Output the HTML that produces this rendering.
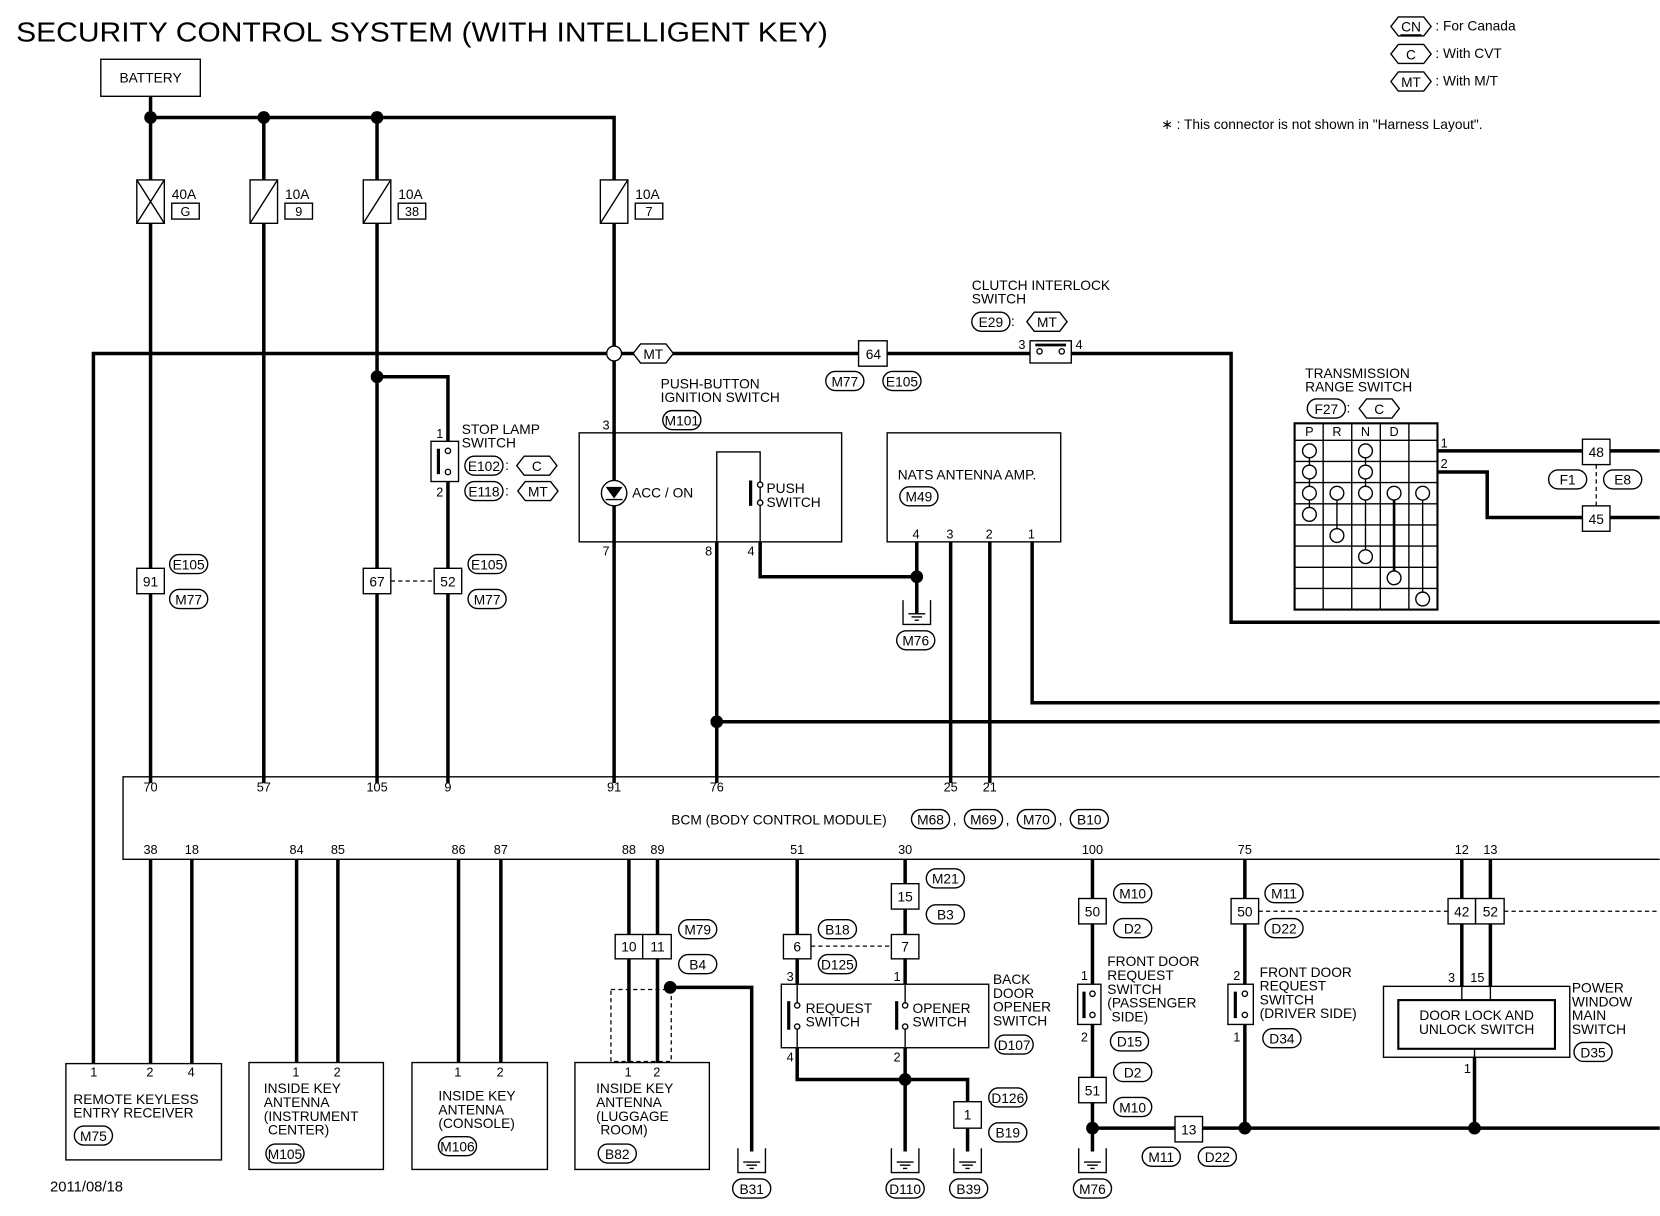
<!DOCTYPE html>
<html><head><meta charset="utf-8"><style>
html,body{margin:0;padding:0;background:#fff}
svg{display:block}
text{font-family:"Liberation Sans",sans-serif;font-size:13px;fill:#000}
.w{stroke:#000;stroke-width:3.3;fill:none}
.t{stroke:#000;stroke-width:1.3;fill:none}
.tf{stroke:#000;stroke-width:1.3;fill:#fff}
.d{stroke:#000;stroke-width:1.2;fill:none;stroke-dasharray:4 3}
.c{text-anchor:middle}
.p{font-size:12px}
</style></head><body>
<svg width="1660" height="1216" viewBox="0 0 1568 1149" xmlns="http://www.w3.org/2000/svg">
<defs>
<g id="gnd"><path class="t" d="M-13,0 V23 H13 V0"/><path class="t" d="M-8,13 H8 M-5,16 H5 M-2,19 H2"/></g>
<g id="ov"><rect class="tf" x="-18" y="-9" width="36" height="18" rx="9"/></g>
<g id="hx"><polygon class="tf" points="-19,0 -12,-9 12,-9 19,0 12,9 -12,9"/></g>
</defs>

<text x="15" y="39" style="font-size:26px" textLength="767" lengthAdjust="spacingAndGlyphs">SECURITY CONTROL SYSTEM (WITH INTELLIGENT KEY)</text>

<!-- legend -->
<use href="#hx" x="1333" y="25"/><text x="1333" y="30" class="c">CN</text><line class="t" x1="1323" y1="33" x2="1343" y2="33"/><text x="1356" y="29">: For Canada</text>
<use href="#hx" x="1333" y="51"/><text x="1333" y="56" class="c">C</text><text x="1356" y="55">: With CVT</text>
<use href="#hx" x="1333" y="77"/><text x="1333" y="82" class="c">MT</text><text x="1356" y="81">: With M/T</text>
<text x="1097" y="122">∗ : This connector is not shown in "Harness Layout".</text>

<!-- battery -->
<rect class="t" x="95" y="56" width="94" height="35"/><text x="142" y="78" class="c">BATTERY</text>
<path class="w" d="M142,91 V111 H580 V740"/>
<circle cx="142" cy="111" r="6"/><circle cx="249" cy="111" r="6"/><circle cx="356" cy="111" r="6"/>
<path class="w" d="M142,111 V740 M249,111 V740 M356,111 V740"/>
<!-- fuses -->
<rect class="tf" x="129" y="170" width="26" height="41"/><path class="t" d="M129,170 L155,211 M155,170 L129,211"/>
<text x="162" y="188">40A</text><rect class="t" x="162" y="192" width="26" height="15"/><text x="175" y="204" class="c p">G</text>
<rect class="tf" x="236" y="170" width="26" height="41"/><path class="t" d="M236,211 L262,170"/>
<text x="269" y="188">10A</text><rect class="t" x="269" y="192" width="26" height="15"/><text x="282" y="204" class="c p">9</text>
<rect class="tf" x="343" y="170" width="26" height="41"/><path class="t" d="M343,211 L369,170"/>
<text x="376" y="188">10A</text><rect class="t" x="376" y="192" width="26" height="15"/><text x="389" y="204" class="c p">38</text>
<rect class="tf" x="567" y="170" width="26" height="41"/><path class="t" d="M567,211 L593,170"/>
<text x="600" y="188">10A</text><rect class="t" x="600" y="192" width="26" height="15"/><text x="613" y="204" class="c p">7</text>

<!-- MT line -->
<path class="w" d="M88,1005 V334 H973 M1012,334 H1163 V588 H1568"/>
<circle class="tf" cx="580" cy="334" r="7"/>
<use href="#hx" x="617" y="334"/><text x="617" y="339" class="c">MT</text>
<rect class="tf" x="811" y="322" width="27" height="24"/><text x="825" y="339" class="c">64</text>
<use href="#ov" x="798" y="360"/><text x="798" y="365" class="c">M77</text>
<use href="#ov" x="852" y="360"/><text x="852" y="365" class="c">E105</text>
<text x="918" y="274">CLUTCH INTERLOCK</text><text x="918" y="287">SWITCH</text>
<use href="#ov" x="936" y="304"/><text x="936" y="309" class="c">E29</text>
<text x="955" y="308">:</text>
<use href="#hx" x="989" y="304"/><text x="989" y="309" class="c">MT</text>
<rect class="tf" x="973" y="322" width="39" height="21"/>
<circle class="t" cx="982" cy="332" r="2.5"/><circle class="t" cx="1003" cy="332" r="2.5"/><line class="t" x1="978" y1="326" x2="1007" y2="326" style="stroke-width:2.5"/>
<text x="962" y="330" class="p">3</text><text x="1016" y="330" class="p">4</text>

<!-- left connectors -->
<rect class="tf" x="129" y="537" width="26" height="24"/><text x="142" y="554" class="c">91</text>
<use href="#ov" x="178" y="533"/><text x="178" y="538" class="c">E105</text>
<use href="#ov" x="178" y="566"/><text x="178" y="571" class="c">M77</text>
<rect class="tf" x="343" y="537" width="26" height="24"/><text x="356" y="554" class="c">67</text>
<line class="d" x1="369" y1="549" x2="410" y2="549"/>
<rect class="tf" x="410" y="537" width="26" height="24"/><text x="423" y="554" class="c">52</text>
<use href="#ov" x="460" y="533"/><text x="460" y="538" class="c">E105</text>
<use href="#ov" x="460" y="566"/><text x="460" y="571" class="c">M77</text>

<!-- stop lamp -->
<path class="w" d="M356,356 H423 V417 M423,455 V537 M423,561 V740"/>
<circle cx="356" cy="356" r="6"/>
<rect class="tf" x="407" y="417" width="26" height="38"/>
<line x1="414" y1="424" x2="414" y2="448" class="t" style="stroke-width:3"/>
<circle class="tf" cx="423" cy="426" r="2.5"/><circle class="tf" cx="423" cy="446" r="2.5"/>
<text x="412" y="414" class="p">1</text><text x="412" y="469" class="p">2</text>
<text x="436" y="410">STOP LAMP</text><text x="436" y="423">SWITCH</text>
<use href="#ov" x="457" y="440"/><text x="457" y="445" class="c">E102</text><text x="477" y="444">:</text>
<use href="#hx" x="507" y="440"/><text x="507" y="445" class="c">C</text>
<use href="#ov" x="457" y="464"/><text x="457" y="469" class="c">E118</text><text x="477" y="468">:</text>
<use href="#hx" x="508" y="464"/><text x="508" y="469" class="c">MT</text>

<!-- push button ignition -->
<text x="624" y="367">PUSH-BUTTON</text><text x="624" y="380">IGNITION SWITCH</text>
<use href="#ov" x="644" y="397"/><text x="644" y="402" class="c">M101</text>
<rect class="t" x="547" y="409" width="248" height="103"/>
<path class="t" d="M677,512 V427 H718 V512"/>
<circle class="tf" cx="580" cy="466" r="12"/>
<polygon points="572,460 588,460 580,471"/><line class="t" x1="572" y1="472" x2="588" y2="472"/>
<text x="597" y="470">ACC / ON</text>
<line class="t" x1="709" y1="454" x2="709" y2="478" style="stroke-width:3"/>
<circle class="tf" cx="718" cy="458" r="2.5"/><circle class="tf" cx="718" cy="475" r="2.5"/>
<text x="724" y="466">PUSH</text><text x="724" y="479">SWITCH</text>
<text x="569" y="406" class="p">3</text><text x="569" y="525" class="p">7</text><text x="666" y="525" class="p">8</text><text x="706" y="525" class="p">4</text>
<path class="w" d="M677,512 V740 M718,512 V545 H866 M866,512 V580"/>
<circle cx="866" cy="545" r="6"/>
<use href="#gnd" x="866" y="567"/>
<use href="#ov" x="865" y="605"/><text x="865" y="610" class="c">M76</text>
<path class="w" d="M677,682 H1568"/><circle cx="677" cy="682" r="6"/>

<!-- NATS -->
<rect class="t" x="838" y="409" width="164" height="103"/>
<text x="848" y="453">NATS ANTENNA AMP.</text>
<use href="#ov" x="868" y="469"/><text x="868" y="474" class="c">M49</text>
<text x="862" y="509" class="p">4</text><text x="894" y="509" class="p">3</text><text x="931" y="509" class="p">2</text><text x="971" y="509" class="p">1</text>
<path class="w" d="M898,512 V740 M935,512 V740 M975,512 V664 H1568"/>

<!-- transmission range -->
<text x="1233" y="357">TRANSMISSION</text><text x="1233" y="370">RANGE SWITCH</text>
<use href="#ov" x="1253" y="386"/><text x="1253" y="391" class="c">F27</text><text x="1272" y="390">:</text>
<use href="#hx" x="1303" y="386"/><text x="1303" y="391" class="c">C</text>
<rect class="t" x="1223" y="400" width="135" height="176" style="stroke-width:2"/>
<path class="t" d="M1250,400 V576 M1277,400 V576 M1304,400 V576 M1331,400 V576 M1223,416 H1358 M1223,436 H1358 M1223,456 H1358 M1223,476 H1358 M1223,496 H1358 M1223,516 H1358 M1223,536 H1358 M1223,556 H1358"/>
<text x="1237" y="412" class="c p">P</text><text x="1263" y="412" class="c p">R</text><text x="1290" y="412" class="c p">N</text><text x="1317" y="412" class="c p">D</text>
<path class="t" d="M1237,426 V486 M1290,426 V526 M1263,466 V506"/>
<path class="w" d="M1317,466 V546" style="stroke-width:2.5"/>
<path class="t" d="M1344,466 V566"/>
<g class="tf">
<circle cx="1237" cy="426" r="6.5"/><circle cx="1290" cy="426" r="6.5"/>
<circle cx="1237" cy="446" r="6.5"/><circle cx="1290" cy="446" r="6.5"/>
<circle cx="1237" cy="466" r="6.5"/><circle cx="1263" cy="466" r="6.5"/><circle cx="1290" cy="466" r="6.5"/><circle cx="1317" cy="466" r="6.5"/><circle cx="1344" cy="466" r="6.5"/>
<circle cx="1237" cy="486" r="6.5"/><circle cx="1263" cy="506" r="6.5"/><circle cx="1290" cy="526" r="6.5"/><circle cx="1317" cy="546" r="6.5"/><circle cx="1344" cy="566" r="6.5"/>
</g>
<text x="1361" y="423" class="p">1</text><text x="1361" y="442" class="p">2</text>
<path class="w" d="M1358,426 H1568 M1358,446 H1405 V489 H1568"/>
<rect class="tf" x="1495" y="415" width="26" height="24"/><text x="1508" y="432" class="c">48</text>
<rect class="tf" x="1495" y="478" width="26" height="24"/><text x="1508" y="495" class="c">45</text>
<line class="d" x1="1508" y1="439" x2="1508" y2="478"/>
<use href="#ov" x="1481" y="453"/><text x="1481" y="458" class="c">F1</text>
<use href="#ov" x="1533" y="453"/><text x="1533" y="458" class="c">E8</text>

<!-- BCM -->
<path class="t" d="M1568,734 H116 V812 H1568"/>
<text x="142" y="748" class="c p">70</text><text x="249" y="748" class="c p">57</text><text x="356" y="748" class="c p">105</text><text x="423" y="748" class="c p">9</text><text x="580" y="748" class="c p">91</text><text x="677" y="748" class="c p">76</text><text x="898" y="748" class="c p">25</text><text x="935" y="748" class="c p">21</text>
<text x="142" y="807" class="c p">38</text><text x="181" y="807" class="c p">18</text><text x="280" y="807" class="c p">84</text><text x="319" y="807" class="c p">85</text><text x="433" y="807" class="c p">86</text><text x="473" y="807" class="c p">87</text><text x="594" y="807" class="c p">88</text><text x="621" y="807" class="c p">89</text><text x="753" y="807" class="c p">51</text><text x="855" y="807" class="c p">30</text><text x="1032" y="807" class="c p">100</text><text x="1176" y="807" class="c p">75</text><text x="1381" y="807" class="c p">12</text><text x="1408" y="807" class="c p">13</text>
<text x="634" y="779">BCM (BODY CONTROL MODULE)</text>
<use href="#ov" x="879" y="774"/><text x="879" y="779" class="c">M68</text><text x="900" y="779">,</text>
<use href="#ov" x="929" y="774"/><text x="929" y="779" class="c">M69</text><text x="950" y="779">,</text>
<use href="#ov" x="979" y="774"/><text x="979" y="779" class="c">M70</text><text x="1000" y="779">,</text>
<use href="#ov" x="1029" y="774"/><text x="1029" y="779" class="c">B10</text>

<!-- bottom wires -->
<path class="w" d="M142,812 V1005 M181,812 V1005 M280,812 V1004 M319,812 V1004 M433,812 V1004 M473,812 V1004 M594,812 V1004 M621,812 V1004"/>
<path class="w" d="M753,812 V930 M753,990 V1020 H914 V1088 M855,812 V930 M855,990 V1088"/>
<path class="w" d="M1032,812 V1088 M1176,812 V1066 M1381,812 V932 M1408,812 V932 M1393,999 V1066 M1032,1066 H1568"/>

<!-- remote keyless -->
<rect class="t" x="62" y="1005" width="147" height="91"/>
<text x="85" y="1017" class="p">1</text><text x="138" y="1017" class="p">2</text><text x="177" y="1017" class="p">4</text>
<text x="69" y="1043">REMOTE KEYLESS</text><text x="69" y="1056">ENTRY RECEIVER</text>
<use href="#ov" x="88" y="1073"/><text x="88" y="1078" class="c">M75</text>

<rect class="t" x="235" y="1004" width="127" height="101"/>
<text x="276" y="1017" class="p">1</text><text x="315" y="1017" class="p">2</text>
<text x="249" y="1033">INSIDE KEY</text><text x="249" y="1046">ANTENNA</text><text x="249" y="1059">(INSTRUMENT</text><text x="253" y="1072">CENTER)</text>
<use href="#ov" x="269" y="1090"/><text x="269" y="1095" class="c">M105</text>

<rect class="t" x="389" y="1004" width="128" height="101"/>
<text x="429" y="1017" class="p">1</text><text x="469" y="1017" class="p">2</text>
<text x="414" y="1040">INSIDE KEY</text><text x="414" y="1053">ANTENNA</text><text x="414" y="1066">(CONSOLE)</text>
<use href="#ov" x="432" y="1083"/><text x="432" y="1088" class="c">M106</text>

<rect class="t" x="543" y="1004" width="127" height="101"/>
<text x="590" y="1017" class="p">1</text><text x="617" y="1017" class="p">2</text>
<text x="563" y="1033">INSIDE KEY</text><text x="563" y="1046">ANTENNA</text><text x="563" y="1059">(LUGGAGE</text><text x="567" y="1072">ROOM)</text>
<use href="#ov" x="583" y="1090"/><text x="583" y="1095" class="c">B82</text>
<rect class="tf" x="581" y="883" width="26" height="23"/><text x="594" y="899" class="c">10</text>
<rect class="tf" x="607" y="883" width="27" height="23"/><text x="621" y="899" class="c">11</text>
<use href="#ov" x="659" y="878"/><text x="659" y="883" class="c">M79</text>
<use href="#ov" x="659" y="911"/><text x="659" y="916" class="c">B4</text>
<rect class="d" x="577" y="935" width="57" height="68"/>
<path class="w" d="M633,933 H710 V1088"/><circle cx="633" cy="933" r="6"/>
<use href="#gnd" x="710" y="1085"/>
<use href="#ov" x="710" y="1123"/><text x="710" y="1128" class="c">B31</text>

<!-- back door -->
<rect class="tf" x="740" y="883" width="26" height="23"/><text x="753" y="899" class="c">6</text>
<line class="d" x1="766" y1="894" x2="842" y2="894"/>
<rect class="tf" x="842" y="883" width="26" height="23"/><text x="855" y="899" class="c">7</text>
<rect class="tf" x="842" y="835" width="26" height="24"/><text x="855" y="852" class="c">15</text>
<use href="#ov" x="791" y="878"/><text x="791" y="883" class="c">B18</text>
<use href="#ov" x="791" y="911"/><text x="791" y="916" class="c">D125</text>
<use href="#ov" x="893" y="830"/><text x="893" y="835" class="c">M21</text>
<use href="#ov" x="893" y="864"/><text x="893" y="869" class="c">B3</text>
<rect class="t" x="738" y="930" width="196" height="60"/>
<path class="t" d="M753,930 V948 M753,972 V990 M855,930 V948 M855,972 V990"/>
<line class="t" x1="745" y1="946" x2="745" y2="973" style="stroke-width:3"/><circle class="tf" cx="753" cy="950" r="2.5"/><circle class="tf" cx="753" cy="970" r="2.5"/>
<line class="t" x1="847" y1="946" x2="847" y2="973" style="stroke-width:3"/><circle class="tf" cx="855" cy="950" r="2.5"/><circle class="tf" cx="855" cy="970" r="2.5"/>
<text x="761" y="957">REQUEST</text><text x="761" y="970">SWITCH</text>
<text x="862" y="957">OPENER</text><text x="862" y="970">SWITCH</text>
<text x="743" y="927" class="p">3</text><text x="844" y="927" class="p">1</text><text x="743" y="1003" class="p">4</text><text x="844" y="1003" class="p">2</text>
<text x="938" y="930">BACK</text><text x="938" y="943">DOOR</text><text x="938" y="956">OPENER</text><text x="938" y="969">SWITCH</text>
<use href="#ov" x="958" y="987"/><text x="958" y="992" class="c">D107</text>
<circle cx="855" cy="1020" r="6"/>
<rect class="tf" x="901" y="1041" width="26" height="25"/><text x="914" y="1058" class="c">1</text>
<use href="#ov" x="952" y="1037"/><text x="952" y="1042" class="c">D126</text>
<use href="#ov" x="952" y="1070"/><text x="952" y="1075" class="c">B19</text>
<use href="#gnd" x="855" y="1085"/><use href="#gnd" x="914" y="1085"/>
<use href="#ov" x="855" y="1123"/><text x="855" y="1128" class="c">D110</text>
<use href="#ov" x="915" y="1123"/><text x="915" y="1128" class="c">B39</text>

<!-- front door passenger -->
<rect class="tf" x="1019" y="849" width="26" height="24"/><text x="1032" y="866" class="c">50</text>
<use href="#ov" x="1070" y="844"/><text x="1070" y="849" class="c">M10</text>
<use href="#ov" x="1070" y="877"/><text x="1070" y="882" class="c">D2</text>
<rect class="tf" x="1018" y="930" width="22" height="38"/>
<line class="t" x1="1024" y1="937" x2="1024" y2="962" style="stroke-width:3"/><circle class="tf" cx="1032" cy="939" r="2.5"/><circle class="tf" cx="1032" cy="959" r="2.5"/>
<text x="1021" y="926" class="p">1</text><text x="1021" y="984" class="p">2</text>
<text x="1046" y="913">FRONT DOOR</text><text x="1046" y="926">REQUEST</text><text x="1046" y="939">SWITCH</text><text x="1046" y="952">(PASSENGER</text><text x="1050" y="965">SIDE)</text>
<use href="#ov" x="1067" y="984"/><text x="1067" y="989" class="c">D15</text>
<rect class="tf" x="1019" y="1018" width="26" height="24"/><text x="1032" y="1035" class="c">51</text>
<use href="#ov" x="1070" y="1013"/><text x="1070" y="1018" class="c">D2</text>
<use href="#ov" x="1070" y="1046"/><text x="1070" y="1051" class="c">M10</text>
<circle cx="1032" cy="1066" r="6"/>
<use href="#gnd" x="1032" y="1085"/>
<use href="#ov" x="1032" y="1123"/><text x="1032" y="1128" class="c">M76</text>
<rect class="tf" x="1110" y="1055" width="26" height="24"/><text x="1123" y="1072" class="c">13</text>
<use href="#ov" x="1097" y="1093"/><text x="1097" y="1098" class="c">M11</text>
<use href="#ov" x="1150" y="1093"/><text x="1150" y="1098" class="c">D22</text>

<!-- driver side -->
<rect class="tf" x="1163" y="849" width="26" height="24"/><text x="1176" y="866" class="c">50</text>
<use href="#ov" x="1213" y="844"/><text x="1213" y="849" class="c">M11</text>
<use href="#ov" x="1213" y="877"/><text x="1213" y="882" class="c">D22</text>
<line class="d" x1="1189" y1="861" x2="1368" y2="861"/><line class="d" x1="1421" y1="861" x2="1568" y2="861"/>
<rect class="tf" x="1160" y="930" width="24" height="38"/>
<line class="t" x1="1167" y1="937" x2="1167" y2="962" style="stroke-width:3"/><circle class="tf" cx="1176" cy="939" r="2.5"/><circle class="tf" cx="1176" cy="959" r="2.5"/>
<text x="1165" y="926" class="p">2</text><text x="1165" y="984" class="p">1</text>
<text x="1190" y="923">FRONT DOOR</text><text x="1190" y="936">REQUEST</text><text x="1190" y="949">SWITCH</text><text x="1190" y="962">(DRIVER SIDE)</text>
<use href="#ov" x="1211" y="981"/><text x="1211" y="986" class="c">D34</text>
<circle cx="1176" cy="1066" r="6"/>

<!-- power window -->
<rect class="tf" x="1368" y="849" width="26" height="24"/><text x="1381" y="866" class="c">42</text>
<rect class="tf" x="1394" y="849" width="27" height="24"/><text x="1408" y="866" class="c">52</text>
<rect class="t" x="1307" y="932" width="176" height="67"/>
<rect class="t" x="1321" y="945" width="148" height="46" style="stroke-width:2"/>
<path class="t" d="M1381,932 V945 M1408,932 V945 M1393,991 V999"/>
<text x="1395" y="964" class="c">DOOR LOCK AND</text><text x="1395" y="977" class="c">UNLOCK SWITCH</text>
<text x="1368" y="928" class="p">3</text><text x="1389" y="928" class="p">15</text><text x="1383" y="1014" class="p">1</text>
<text x="1485" y="938">POWER</text><text x="1485" y="951">WINDOW</text><text x="1485" y="964">MAIN</text><text x="1485" y="977">SWITCH</text>
<use href="#ov" x="1505" y="994"/><text x="1505" y="999" class="c">D35</text>
<circle cx="1393" cy="1066" r="6"/>

<text x="47" y="1126" style="font-size:14px">2011/08/18</text>
</svg>
</body></html>
